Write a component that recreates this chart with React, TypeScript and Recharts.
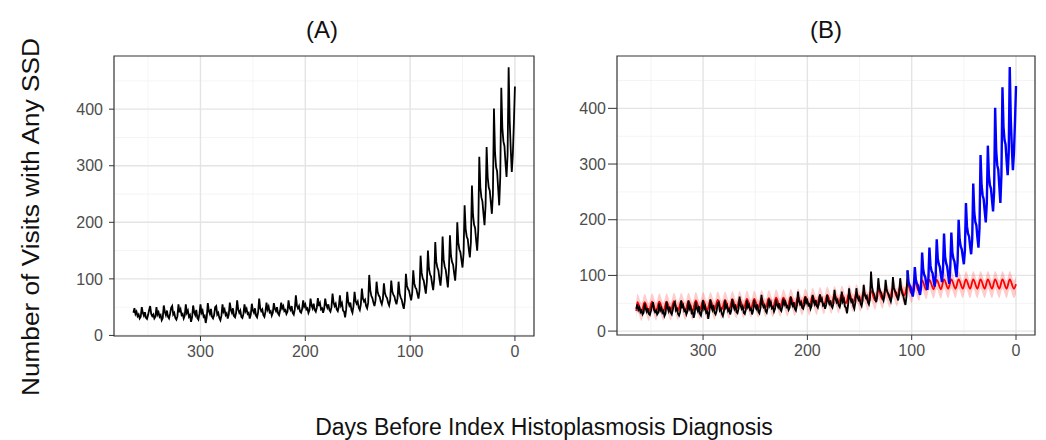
import { ComposedChart, Line, Area, XAxis, YAxis, CartesianGrid, ReferenceArea } from 'recharts';

const FONT = '"Liberation Sans", Arial, Helvetica, sans-serif';

const dayTicks = [300, 200, 100, 0];
const countTicks = [0, 100, 200, 300, 400];
const minorDayLines = [350, 250, 150, 50];
const minorCountLines = [50, 150, 250, 350, 450];

// daily visits with any SSD, day 364 -> day 0 (one row per week, row starts on the weekly peak)
const visits = [
  40,
  48, 38, 42, 34, 37, 30, 33,
  50, 40, 35, 41, 31, 29, 36,
  45, 52, 38, 34, 37, 30, 33,
  50, 37, 41, 33, 36, 27, 31,
  53, 42, 36, 44, 33, 30, 38,
  49, 52, 37, 40, 31, 28, 34,
  55, 41, 46, 36, 38, 30, 35,
  55, 40, 44, 33, 36, 24, 32,
  53, 41, 36, 45, 31, 28, 38,
  55, 40, 44, 33, 35, 22, 33,
  57, 43, 38, 47, 33, 30, 36,
  50, 52, 37, 40, 31, 27, 35,
  55, 42, 46, 36, 39, 30, 37,
  58, 45, 40, 48, 34, 32, 40,
  62, 46, 40, 44, 33, 31, 38,
  55, 43, 47, 38, 40, 30, 37,
  56, 44, 40, 48, 35, 32, 41,
  65, 48, 43, 46, 36, 33, 42,
  58, 46, 51, 41, 43, 35, 40,
  57, 47, 43, 50, 39, 36, 44,
  58, 48, 52, 43, 45, 38, 42,
  62, 49, 45, 52, 40, 37, 46,
  71, 53, 48, 52, 42, 40, 47,
  62, 51, 55, 46, 48, 40, 45,
  65, 53, 48, 56, 45, 42, 49,
  66, 52, 57, 46, 48, 40, 47,
  65, 54, 49, 55, 45, 42, 50,
  74, 58, 52, 56, 46, 43, 51,
  71, 53, 57, 44, 42, 32, 46,
  77, 59, 53, 58, 45, 40, 52,
  77, 61, 56, 60, 49, 45, 55,
  83, 65, 60, 63, 52, 48, 58,
  107, 80, 70, 66, 58, 52, 62,
  95, 77, 71, 68, 60, 55, 64,
  92, 75, 69, 66, 58, 53, 63,
  97, 78, 72, 69, 61, 55, 66,
  95, 74, 67, 63, 54, 47, 62,
  109, 88, 82, 79, 70, 62, 75,
  115, 92, 85, 82, 73, 65, 80,
  141, 111, 101, 97, 85, 74, 95,
  150, 118, 108, 104, 91, 80, 100,
  165, 130, 120, 115, 100, 88, 110,
  175, 134, 122, 116, 100, 85, 115,
  177, 141, 130, 125, 110, 97, 125,
  200, 164, 152, 147, 133, 120, 145,
  230, 188, 175, 170, 152, 138, 165,
  265, 213, 196, 190, 168, 150, 185,
  316, 262, 244, 237, 215, 195, 230,
  333, 280, 262, 256, 235, 215, 250,
  401, 324, 298, 290, 260, 230, 280,
  438, 367, 343, 335, 305, 280, 320,
  474, 380, 330, 289, 320, 375, 440,
];

// expected visits (red) and its band, sampled on day 364, then each weekly peak / mid-week low, then day 0
const expected = [
  36,
  52, 35, 52, 35, 53, 36, 53, 36, 53, 36, 54, 37, 54, 37, 54, 37, 55, 38, 55, 38,
  55, 38, 56, 39, 56, 39, 57, 40, 57, 40, 58, 41, 58, 41, 59, 42, 59, 42, 60, 43,
  60, 43, 61, 44, 62, 45, 62, 45, 63, 46, 64, 47, 65, 48, 66, 49, 67, 50, 68, 51,
  69, 52, 71, 54, 72, 55, 74, 57, 76, 59, 78, 61, 81, 64, 84, 67, 88, 71, 91, 74,
  92, 75, 92, 75, 93, 76, 93, 76, 93, 76, 93, 76, 93, 76, 93, 76, 93, 76, 93, 76,
  93, 76, 93, 76,
  84,
];
const bandHigh = [
  51,
  67, 50, 67, 50, 68, 51, 68, 51, 68, 51, 69, 52, 69, 52, 69, 52, 70, 53, 70, 53,
  70, 53, 71, 54, 71, 54, 72, 55, 72, 55, 73, 56, 73, 56, 74, 57, 74, 57, 75, 58,
  75, 58, 76, 59, 77, 60, 77, 60, 78, 61, 79, 62, 80, 63, 81, 64, 82, 65, 83, 66,
  84, 67, 86, 69, 87, 70, 89, 72, 91, 74, 93, 76, 96, 79, 99, 82, 103, 86, 106, 89,
  107, 90, 107, 90, 108, 91, 108, 91, 108, 91, 108, 91, 108, 91, 108, 91, 108, 91, 108, 91,
  108, 91, 108, 91,
  99,
];
const bandLow = [
  19,
  35, 18, 35, 18, 36, 19, 36, 19, 36, 19, 37, 20, 37, 20, 37, 20, 38, 21, 38, 21,
  38, 21, 39, 22, 39, 22, 40, 23, 40, 23, 41, 24, 41, 24, 42, 25, 42, 25, 43, 26,
  43, 26, 44, 27, 45, 28, 45, 28, 46, 29, 47, 30, 48, 31, 49, 32, 50, 33, 51, 34,
  52, 35, 54, 37, 55, 38, 57, 40, 59, 42, 61, 44, 64, 47, 67, 50, 71, 54, 74, 57,
  75, 58, 75, 58, 76, 59, 76, 59, 76, 59, 76, 59, 76, 59, 76, 59, 76, 59, 76, 59,
  76, 59, 76, 59,
  67,
];

const FIRST_DAY = 364;
const SPLIT_DAY = 104;
const weekPeaks = Array.from({ length: 52 }, (_, i) => 363 - 7 * i);
const sampleDays = [FIRST_DAY, ...weekPeaks.flatMap((p) => [p, p - 4]), 0];

const visitRows = visits.map((v, i) => ({ day: FIRST_DAY - i, v }));
const beforeRows = visitRows.filter((r) => r.day >= SPLIT_DAY);
const afterRows = visitRows.filter((r) => r.day <= SPLIT_DAY);
const expectedRows = sampleDays.map((day, i) => ({ day, e: expected[i], band: [bandLow[i], bandHigh[i]] }));

const X_DOMAIN: [number, number] = [-18.2, 382.5];
const tickStyle = { fontSize: 16, fill: '#4d4d4d', fontFamily: FONT };

function frame(yDomain: [number, number], yTickSize: number, yTickMargin: number) {
  return [
    <CartesianGrid key="gmin" horizontalValues={minorCountLines} verticalValues={minorDayLines} stroke="#f1f1f1" strokeWidth={0.8} />,
    <CartesianGrid key="gmaj" horizontalValues={countTicks} verticalValues={dayTicks} stroke="#e4e4e4" strokeWidth={1.4} />,
    <XAxis key="x" type="number" dataKey="day" domain={X_DOMAIN} reversed ticks={dayTicks} allowDataOverflow
      axisLine={false} tickLine={{ stroke: '#333' }} tickSize={5} tickMargin={5} tick={tickStyle} height={32} />,
    <YAxis key="y" type="number" domain={yDomain} ticks={countTicks} allowDataOverflow
      axisLine={false} tickLine={{ stroke: '#333' }} tickSize={yTickSize} tickMargin={yTickMargin} tick={tickStyle} width={44} />,
  ];
}

function border(yDomain: [number, number]) {
  return (
    <ReferenceArea key="border" x1={X_DOMAIN[0]} x2={X_DOMAIN[1]} y1={yDomain[0]} y2={yDomain[1]}
      fill="none" fillOpacity={0} stroke="#333" strokeWidth={1.2} ifOverflow="visible" />
  );
}

const textBase = { position: 'absolute' as const, fontFamily: FONT, color: '#111', whiteSpace: 'nowrap' as const };

export default function App() {
  const yA: [number, number] = [-1, 494];
  const yB: [number, number] = [-7, 494];
  return (
    <div style={{ position: 'absolute', left: 0, top: 0, width: 1046, height: 440, background: '#fff', overflow: 'hidden' }}>
      <div style={{ ...textBase, left: 322, top: 30, fontSize: 24, transform: 'translate(-50%, -50%)' }}>(A)</div>
      <div style={{ ...textBase, left: 826, top: 30, fontSize: 24, transform: 'translate(-50%, -50%)' }}>(B)</div>
      <div style={{ ...textBase, left: 31, top: 217, fontSize: 23, transform: 'translate(-50%, -50%) rotate(-90deg) scaleX(1.14)' }}>
        Number of Visits with Any SSD
      </div>
      <div style={{ ...textBase, left: 544, top: 427, fontSize: 23, transform: 'translate(-50%, -50%)' }}>
        Days Before Index Histoplasmosis Diagnosis
      </div>

      <div style={{ position: 'absolute', left: 0, top: 0 }}>
        <ComposedChart width={540} height={380} margin={{ top: 56, right: 6, left: 70, bottom: 12 }}>
          {frame(yA, 5, 6)}
          <Line data={visitRows} dataKey="v" type="linear" stroke="#000" strokeWidth={1.8} dot={false} isAnimationActive={false} />
          {border(yA)}
        </ComposedChart>
      </div>

      <div style={{ position: 'absolute', left: 540, top: 0 }}>
        <ComposedChart width={506} height={380} margin={{ top: 56, right: 11, left: 33, bottom: 13 }}>
          {frame(yB, 9, 2)}
          <Area data={expectedRows} dataKey="band" type="monotone" stroke="none" fill="#ff0000" fillOpacity={0.2} isAnimationActive={false} />
          <Line data={expectedRows} dataKey="e" type="monotone" stroke="#ff0000" strokeWidth={1.8} dot={false} isAnimationActive={false} />
          <Line data={beforeRows} dataKey="v" type="linear" stroke="#000" strokeWidth={1.8} dot={false} isAnimationActive={false} />
          <Line data={afterRows} dataKey="v" type="linear" stroke="#0000ff" strokeWidth={2.4} dot={false} isAnimationActive={false} />
          {border(yB)}
        </ComposedChart>
      </div>
    </div>
  );
}
